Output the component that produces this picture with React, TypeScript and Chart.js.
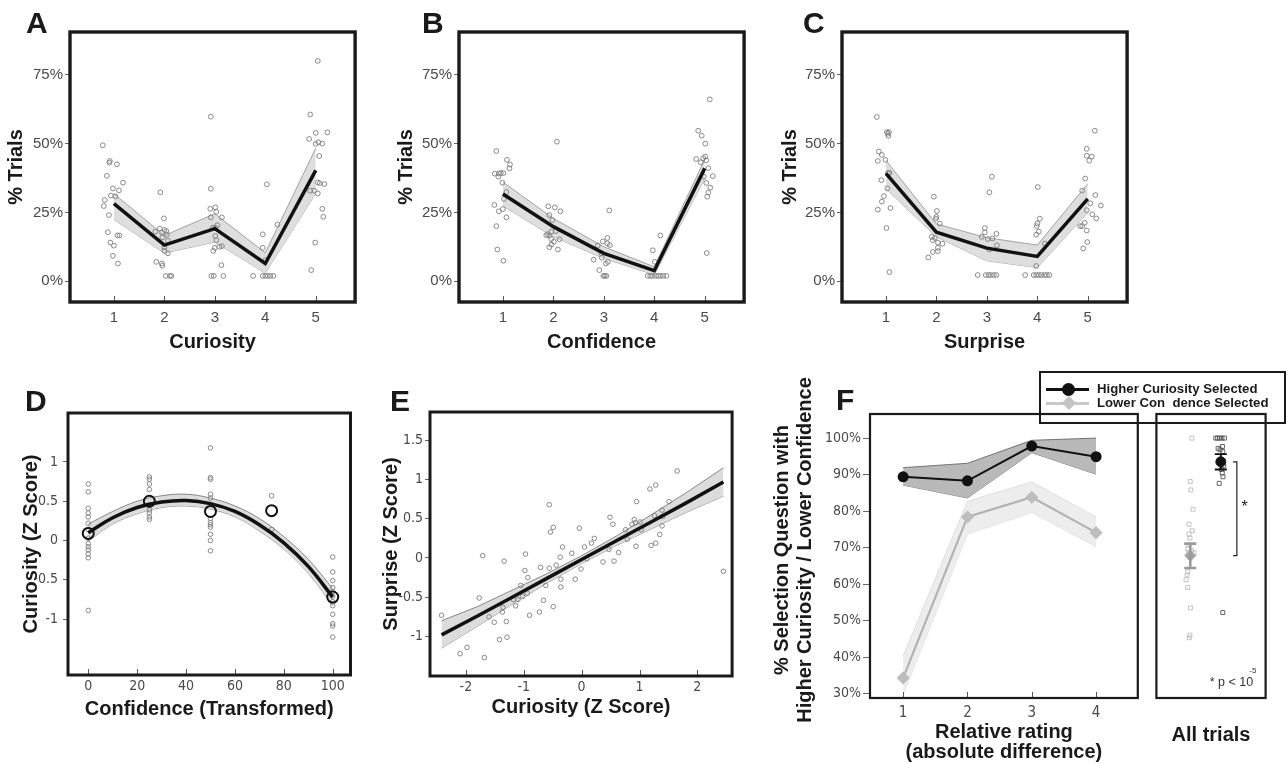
import React, { useEffect, useRef } from "react";
import { Chart, registerables } from "chart.js";

Chart.register(...registerables);

type Pt = [number, number];

// ---------------- Panels A–C : distribution of ratings ----------------
const ratingLevels = [1, 2, 3, 4, 5];
const pctTicks = [0, 25, 50, 75];

const curiosityMean = [28.2, 13.1, 19.1, 6.4, 40.3];
const curiosityLow = [22.4, 10.2, 14.2, 2.9, 31.9];
const curiosityHigh = [31.8, 16.6, 24.5, 10.3, 48.3];
const curiosityPoints: Pt[] = [
  [0.78, 49.4], [0.92, 43.7], [0.91, 43.1], [1.06, 42.5], [0.86, 38.3], [1.18, 35.8], [0.98, 33.7], [1.1, 33.0],
  [0.94, 31.1], [1.03, 30.8], [0.82, 29.5], [0.8, 27.3], [0.9, 24.0], [0.88, 17.8], [1.07, 16.6], [1.11, 16.6],
  [0.93, 14.0], [1.0, 12.9], [0.98, 9.2], [1.08, 6.4],
  [1.92, 32.3], [1.99, 22.8], [1.82, 18.0], [1.91, 19.1], [1.95, 17.7], [2.0, 18.6], [2.04, 18.2], [2.05, 16.9],
  [1.96, 15.9], [2.07, 14.7], [2.0, 12.3], [2.0, 11.0], [2.07, 10.1], [1.84, 7.0], [1.95, 6.4], [1.96, 5.6],
  [2.03, 1.9], [2.11, 1.9], [2.14, 1.9],
  [2.92, 59.8], [2.92, 33.6], [2.91, 26.3], [3.01, 26.8], [3.03, 25.2], [2.92, 23.2], [3.14, 23.2], [2.96, 19.4],
  [3.01, 19.4], [3.05, 20.3], [3.01, 16.4], [3.03, 14.9], [3.0, 12.1], [3.09, 12.5], [3.14, 12.7], [2.97, 11.0],
  [3.13, 5.8], [2.93, 1.9], [2.98, 1.9], [3.17, 1.9],
  [4.03, 35.2], [4.24, 20.6], [3.95, 17.0], [3.95, 12.1], [4.0, 7.6], [3.76, 1.9], [3.95, 1.9], [4.0, 1.9],
  [4.05, 1.9], [4.1, 1.9], [4.16, 1.9],
  [5.04, 80.1], [4.89, 60.6], [5.0, 53.9], [5.23, 54.1], [4.87, 51.7], [5.0, 49.9], [5.05, 50.5], [5.13, 50.0],
  [5.07, 45.5], [5.04, 35.9], [5.08, 35.6], [5.17, 35.3], [4.89, 32.9], [4.97, 32.9], [5.04, 31.9], [5.13, 26.3],
  [5.15, 23.4], [4.99, 14.0], [4.91, 4.0],
];

const confidenceMean = [31.7, 19.8, 10.1, 3.8, 41.0];
const confidenceLow = [27.4, 16.1, 8.3, 2.3, 37.4];
const confidenceHigh = [36.0, 22.8, 12.5, 5.2, 44.3];
const confidencePoints: Pt[] = [
  [0.87, 47.3], [1.08, 44.1], [1.14, 42.4], [1.13, 41.0], [0.84, 39.1], [0.92, 39.1], [0.91, 38.0], [0.96, 39.3],
  [1.01, 39.3], [0.99, 35.8], [1.07, 32.4], [1.02, 29.9], [0.83, 27.7], [1.0, 26.2], [0.92, 25.4], [1.07, 23.2],
  [0.87, 20.0], [0.89, 11.5], [1.01, 7.4],
  [2.07, 50.7], [1.9, 27.2], [2.03, 26.8], [2.14, 25.4], [1.92, 24.0], [1.98, 22.2], [1.96, 18.0], [2.05, 18.2],
  [1.86, 16.7], [1.92, 16.6], [1.96, 15.3], [2.12, 15.2], [2.01, 14.3], [1.96, 13.3], [1.92, 12.3], [2.09, 11.5],
  [1.89, 17.1],
  [3.11, 25.7], [2.88, 12.9], [2.98, 14.4], [3.07, 13.7], [3.07, 15.7], [3.12, 13.1], [2.95, 10.1], [2.96, 8.5],
  [2.8, 7.8], [3.04, 6.4], [3.08, 7.0], [2.91, 4.0], [2.99, 1.9], [3.02, 1.9], [3.05, 1.9],
  [4.12, 16.6], [3.97, 11.2], [4.01, 7.0], [3.87, 1.9], [3.92, 1.9], [3.97, 1.9], [4.03, 1.9], [4.08, 1.9],
  [4.13, 1.9], [4.18, 1.9], [4.24, 1.9],
  [5.1, 66.1], [4.87, 54.7], [4.94, 52.9], [5.01, 50.0], [4.83, 44.4], [4.92, 43.2], [4.97, 44.7], [5.01, 45.3],
  [5.03, 43.9], [5.07, 41.1], [4.98, 38.0], [5.16, 38.2], [5.03, 35.7], [5.11, 34.0], [5.07, 32.2], [5.05, 30.7],
  [5.04, 10.2],
];

const surpriseMean = [39.2, 17.8, 12.0, 9.0, 29.9];
const surpriseLow = [33.6, 16.1, 7.4, 4.9, 24.9];
const surpriseHigh = [43.9, 20.8, 15.8, 13.1, 35.4];
const surprisePoints: Pt[] = [
  [0.82, 59.7], [1.02, 54.2], [1.06, 54.2], [1.04, 53.6], [1.05, 52.8], [0.86, 47.1], [0.92, 45.9], [0.84, 43.7],
  [0.99, 44.1], [1.04, 39.4], [1.07, 39.3], [0.91, 36.7], [1.03, 33.7], [0.96, 30.9], [0.92, 28.9], [1.09, 26.6],
  [0.84, 26.0], [1.01, 19.3], [1.07, 3.3],
  [1.95, 30.7], [2.01, 25.5], [2.0, 23.4], [1.99, 22.7], [2.07, 20.9], [1.91, 16.1], [1.93, 14.9], [1.97, 15.7],
  [2.03, 14.0], [2.12, 13.6], [2.03, 12.1], [1.93, 10.6], [2.03, 10.9], [1.84, 8.6],
  [3.1, 38.0], [3.05, 32.3], [2.96, 19.3], [2.96, 17.7], [2.9, 16.1], [3.02, 15.3], [3.11, 15.5], [3.19, 17.2],
  [3.2, 13.0], [3.05, 11.5], [2.82, 2.2], [2.98, 2.2], [3.03, 2.2], [3.08, 2.2], [3.14, 2.2], [3.19, 2.2],
  [4.01, 34.2], [4.05, 22.7], [4.0, 21.0], [3.99, 20.0], [4.03, 18.0], [3.98, 16.9], [4.15, 13.6], [3.98, 5.5],
  [3.76, 2.2], [3.93, 2.2], [3.98, 2.2], [4.03, 2.2], [4.08, 2.2], [4.14, 2.2], [4.19, 2.2], [4.24, 2.2],
  [5.14, 54.7], [4.98, 48.1], [4.98, 45.6], [5.08, 45.3], [5.03, 43.8], [4.95, 37.3], [4.89, 32.9], [5.15, 31.3],
  [5.05, 28.3], [5.26, 27.5], [4.98, 25.8], [5.09, 24.3], [5.17, 22.8], [4.85, 20.0], [4.94, 21.2], [4.89, 20.0],
  [4.98, 18.4], [4.99, 14.2], [4.91, 11.9],
];

// ---------------- Panel D : curiosity vs transformed confidence ----------------
const confLevels = [0, 25, 50, 75, 100];
const confLevelMeans = [0.09, 0.5, 0.37, 0.38, -0.72];
const confTicks = [0, 20, 40, 60, 80, 100];
const zTicksD = [-1, -0.5, 0, 0.5, 1];
const curiosityByConf: Pt[] = [
  [0, 0.72], [0, 0.62], [0, 0.41], [0, 0.35], [0, 0.3], [0, 0.22], [0, 0.14], [0, 0.03], [0, -0.04], [0, -0.08],
  [0, -0.12], [0, -0.17], [0, -0.22], [0, -0.89],
  [25, 0.81], [25, 0.78], [25, 0.72], [25, 0.65], [25, 0.45], [25, 0.39], [25, 0.35], [25, 0.3], [25, 0.27],
  [50, 1.18], [50, 0.8], [50, 0.78], [50, 0.59], [50, 0.54], [50, 0.28], [50, 0.23], [50, 0.2], [50, 0.17],
  [50, 0.08], [50, 0.0], [50, -0.13],
  [75, 0.57], [75, 0.14],
  [100, -0.21], [100, -0.4], [100, -0.51], [100, -0.6], [100, -0.65], [100, -0.71], [100, -0.78], [100, -0.83],
  [100, -0.94], [100, -1.06], [100, -1.09], [100, -1.23],
];
const fitConfX = [0, 10, 20, 30, 40, 50, 60, 70, 80, 90, 100];
const fitConfY = [0.1, 0.29, 0.42, 0.49, 0.51, 0.47, 0.37, 0.2, -0.03, -0.33, -0.72];
const fitConfLow = [-0.01, 0.21, 0.34, 0.42, 0.44, 0.4, 0.3, 0.12, -0.11, -0.42, -0.83];
const fitConfHigh = [0.21, 0.37, 0.5, 0.57, 0.59, 0.54, 0.44, 0.28, 0.05, -0.24, -0.61];

// ---------------- Panel E : surprise vs curiosity ----------------
const zTicksEx = [-2, -1, 0, 1, 2];
const zTicksEy = [-1, -0.5, 0, 0.5, 1, 1.5];
const surpriseByCuriosity: Pt[] = [
  [-2.42, -0.73], [-2.1, -1.22], [-1.98, -1.14], [-1.77, -0.51], [-1.71, 0.03], [-1.68, -1.27], [-1.6, -0.75],
  [-1.51, -0.82], [-1.42, -1.04], [-1.37, -0.69], [-1.36, -0.63], [-1.34, -0.04], [-1.3, -0.81], [-1.29, -1.01],
  [-1.18, -0.53], [-1.14, -0.61], [-1.1, -0.53], [-1.05, -0.35], [-1.02, -0.49], [-0.98, -0.16], [-0.97, 0.05],
  [-0.94, -0.45], [-0.93, -0.25], [-0.9, -0.73], [-0.73, -0.69], [-0.71, -0.12], [-0.66, -0.54], [-0.62, -0.35],
  [-0.56, -0.13], [-0.56, 0.68], [-0.54, 0.33], [-0.49, 0.39], [-0.49, -0.62], [-0.44, -0.09], [-0.37, 0.01],
  [-0.36, -0.27], [-0.36, -0.37], [-0.33, 0.14], [-0.17, 0.06], [-0.11, -0.27], [-0.04, 0.38], [-0.01, -0.14],
  [0.05, 0.14], [0.09, -0.01], [0.17, 0.19], [0.22, 0.25], [0.37, -0.05], [0.47, 0.11], [0.49, 0.52], [0.54, 0.43],
  [0.56, -0.04], [0.64, 0.07], [0.76, 0.36], [0.79, 0.24], [0.87, 0.43], [0.91, 0.49], [0.93, 0.45], [0.94, 0.15],
  [0.95, 0.72], [1.01, 0.46], [1.03, 0.36], [1.18, 0.88], [1.2, 0.16], [1.26, 0.54], [1.28, 0.93], [1.28, 0.19],
  [1.35, 0.3], [1.39, 0.41], [1.39, 0.61], [1.4, 0.53], [1.51, 0.72], [1.65, 1.11], [2.45, -0.17],
];
const fitCurX = [-2.42, -1.8, -1.2, -0.6, 0, 0.6, 1.2, 1.8, 2.45];
const fitCurY = [-0.98, -0.74, -0.5, -0.26, -0.02, 0.22, 0.46, 0.7, 0.97];
const fitCurLow = [-1.15, -0.87, -0.59, -0.32, -0.07, 0.16, 0.37, 0.58, 0.79];
const fitCurHigh = [-0.8, -0.62, -0.41, -0.2, 0.03, 0.28, 0.55, 0.83, 1.15];

// ---------------- Panel F : selection by relative rating ----------------
const relRating = [1, 2, 3, 4];
const pctTicksF = [30, 40, 50, 60, 70, 80, 90, 100];
const higherCurMean = [89.4, 88.3, 97.8, 94.9];
const higherCurLow = [87.1, 83.6, 96.0, 90.1];
const higherCurHigh = [91.9, 93.1, 99.4, 100.0];
const lowerConfMean = [34.3, 78.4, 83.8, 74.1];
const lowerConfLow = [29.7, 73.7, 79.6, 70.2];
const lowerConfHigh = [40.3, 82.7, 88.0, 78.4];
const fYTitle = ["% Selection Question with", "Higher Curiosity / Lower Confidence"];

// All trials (per subject), x = jittered group position
const allGroupX = [0.31, 0.59]; // lower confidence, higher curiosity
const allMean = [67.8, 93.5];
const allErrLow = [64.4, 91.4];
const allErrHigh = [71.1, 95.6];
const allLowerConf: Pt[] = [
  [0.325, 100], [0.31, 88.1], [0.315, 85.8], [0.335, 80.5], [0.298, 76.4], [0.328, 74.6], [0.298, 73.7],
  [0.307, 72.6], [0.298, 70.7], [0.287, 69.7], [0.322, 69.2], [0.345, 68.6], [0.295, 68.5], [0.315, 67.5],
  [0.287, 63.4], [0.281, 62.5], [0.272, 61.2], [0.287, 59.1], [0.312, 53.5], [0.307, 46.0], [0.301, 45.3],
];
const allHigherCur: Pt[] = [
  [0.544, 100], [0.561, 100], [0.579, 100], [0.6, 100], [0.623, 100], [0.605, 97.7], [0.565, 97.2], [0.583, 96.8],
  [0.608, 96.3], [0.575, 93.5], [0.617, 92.4], [0.595, 91.4], [0.603, 90.5], [0.61, 89.4], [0.575, 87.6],
  [0.608, 52.2],
];

// ---------------- helpers ----------------
const FONT = "'Liberation Sans', Arial, Helvetica, sans-serif";
const NARROW = "'Liberation Sans Narrow', 'DejaVu Sans Condensed', 'Liberation Sans', Arial, sans-serif";
const INK = "#1a1a1a";
const TICK = "#4a4a4a";

const xy = (xs: number[], ys: number[]) => xs.map((x, i) => ({ x, y: ys[i] }));
const pts = (p: Pt[]) => p.map(([x, y]) => ({ x, y }));

const framePlugin = {
  id: "frame",
  afterDraw(chart: any, _a: any, opts: any) {
    const { ctx, chartArea: a } = chart;
    ctx.save();
    if (opts.inwardTicks) {
      const sx = chart.scales.x;
      ctx.strokeStyle = "#555";
      ctx.lineWidth = 1;
      for (const t of sx.ticks) {
        const px = Math.round(sx.getPixelForValue(t.value)) + 0.5;
        ctx.beginPath();
        ctx.moveTo(px, a.bottom);
        ctx.lineTo(px, a.bottom - opts.inwardTicks);
        ctx.stroke();
      }
    }
    ctx.strokeStyle = INK;
    ctx.lineWidth = opts.width ?? 3;
    ctx.strokeRect(a.left, a.top, a.right - a.left, a.bottom - a.top);
    ctx.restore();
  },
};

// two-line rotated y title for panel F (wider than the plot, so drawn without width limit)
const fTitlePlugin = {
  id: "fTitle",
  afterDraw(chart: any) {
    const { ctx, chartArea: a } = chart;
    const cy = (a.top + a.bottom) / 2 - 6;
    ctx.save();
    ctx.fillStyle = INK;
    ctx.font = `bold 20px ${FONT}`;
    ctx.textAlign = "center";
    ctx.textBaseline = "middle";
    fYTitle.forEach((line, i) => {
      ctx.save();
      ctx.translate(a.left - 88 + i * 23.5, cy);
      ctx.rotate(-Math.PI / 2);
      ctx.fillText(line, 0, 0);
      ctx.restore();
    });
    ctx.restore();
  },
};

function axisX(o: any) {
  return {
    type: "linear",
    position: "bottom",
    min: o.min,
    max: o.max,
    afterBuildTicks: (s: any) => {
      if (o.ticks) s.ticks = o.ticks.map((v: number) => ({ value: v }));
    },
    afterFit: (s: any) => {
      s.height = o.height;
    },
    grid: { display: false, drawTicks: false },
    border: { display: false },
    ticks: {
      display: o.showTicks !== false,
      padding: o.tickPad ?? 6,
      color: TICK,
      autoSkip: false,
      maxRotation: 0,
      font: { family: o.tickFont ?? FONT, size: o.tickSize ?? 14 },
      callback: (v: any) => (o.fmt ? o.fmt(v) : String(v)),
    },
    title: {
      display: true,
      text: o.title,
      color: INK,
      padding: 0,
      font: { family: FONT, size: 20, weight: "bold", lineHeight: o.titleLH ?? 1.2 },
    },
  };
}

function axisY(o: any) {
  if (o.hidden) return { type: "linear", display: false, min: o.min, max: o.max };
  return {
    type: "linear",
    position: "left",
    min: o.min,
    max: o.max,
    afterBuildTicks: (s: any) => {
      s.ticks = o.ticks.map((v: number) => ({ value: v }));
    },
    afterFit: (s: any) => {
      s.width = o.width;
    },
    grid: { display: true, drawOnChartArea: false, drawTicks: true, tickLength: o.tickLen ?? 5, color: "#666", lineWidth: 1 },
    border: { display: false },
    ticks: {
      padding: o.tickPad ?? 2,
      color: TICK,
      autoSkip: false,
      font: { family: o.tickFont ?? FONT, size: o.tickSize ?? 14 },
      callback: (v: any) => (o.fmt ? o.fmt(v) : String(v)),
    },
    title: {
      display: o.title !== undefined,
      text: o.title ?? "",
      color: INK,
      padding: 0,
      font: { family: FONT, size: 20, weight: "bold", lineHeight: 1.2 },
    },
  };
}

const lineDs = (data: any[], color: string, width: number, extra: any = {}) => ({
  type: "line",
  data,
  borderColor: color,
  borderWidth: width,
  pointRadius: 0,
  fill: false,
  tension: 0,
  ...extra,
});
const dotDs = (data: any[], color: string, r = 2.3, style = "circle", extra: any = {}) => ({
  type: "scatter",
  data,
  pointStyle: style,
  pointRadius: r,
  pointBorderColor: color,
  pointBackgroundColor: "rgba(0,0,0,0)",
  pointBorderWidth: 0.9,
  showLine: false,
  ...extra,
});

function baseConfig(datasets: any[], scales: any, padding: any, frame: any, extra: any[] = []) {
  return {
    type: "scatter",
    data: { datasets },
    options: {
      responsive: false,
      animation: false,
      events: [],
      layout: { padding },
      plugins: { legend: { display: false }, tooltip: { enabled: false }, frame },
      scales,
    },
    plugins: [framePlugin, ...extra],
  };
}

function topPanel(points: Pt[], mean: number[], low: number[], high: number[], title: string, yWidth: number) {
  return baseConfig(
    [
      lineDs(xy(ratingLevels, mean), "#111", 3.5),
      dotDs(pts(points), "#7d7d7d", 2.4),
      lineDs(xy(ratingLevels, high), "#8f8f8f", 0.8, { fill: "+1", backgroundColor: "#dedede" }),
      lineDs(xy(ratingLevels, low), "#8f8f8f", 0.8),
    ],
    {
      x: axisX({ min: 0.13, max: 5.78, ticks: ratingLevels, title, tickSize: 15, tickPad: 7, height: 52 }),
      y: axisY({ min: -7.6, max: 90.6, ticks: pctTicks, fmt: (v: number) => `${v}%`, title: "% Trials", tickSize: 15, width: yWidth }),
    },
    { left: 0, top: 32, right: 4, bottom: 0 },
    { width: 3.4, inwardTicks: 6 }
  );
}

const allTrialsPlugin = {
  id: "allTrials",
  afterDatasetsDraw(chart: any) {
    const { ctx } = chart;
    const sx = chart.scales.x;
    const sy = chart.scales.y;
    ctx.save();
    allGroupX.forEach((gx, i) => {
      const px = sx.getPixelForValue(gx);
      const t = sy.getPixelForValue(allErrHigh[i]);
      const b = sy.getPixelForValue(allErrLow[i]);
      ctx.strokeStyle = i === 0 ? "#9b9b9b" : "#111";
      ctx.lineWidth = i === 0 ? 2.6 : 1.8;
      ctx.beginPath();
      ctx.moveTo(px, t);
      ctx.lineTo(px, b);
      ctx.moveTo(px - 6, t);
      ctx.lineTo(px + 6, t);
      ctx.moveTo(px - 6, b);
      ctx.lineTo(px + 6, b);
      ctx.stroke();
    });
    // significance bracket between the two group means
    const bx = sx.getPixelForValue(0.737);
    const bx0 = sx.getPixelForValue(0.702);
    const y1 = sy.getPixelForValue(allMean[1]);
    const y0 = sy.getPixelForValue(allMean[0]);
    ctx.strokeStyle = "#222";
    ctx.lineWidth = 1.2;
    ctx.beginPath();
    ctx.moveTo(bx0, y1);
    ctx.lineTo(bx, y1);
    ctx.lineTo(bx, y0);
    ctx.lineTo(bx0, y0);
    ctx.stroke();
    ctx.fillStyle = "#222";
    ctx.font = `16px ${FONT}`;
    ctx.textAlign = "center";
    ctx.textBaseline = "middle";
    ctx.fillText("*", sx.getPixelForValue(0.807), sy.getPixelForValue(80.9));
    ctx.fillStyle = "#333";
    ctx.font = `12.5px ${FONT}`;
    ctx.textAlign = "right";
    ctx.textBaseline = "alphabetic";
    ctx.fillText("* p < 10", sx.getPixelForValue(0.886), sy.getPixelForValue(32.1));
    ctx.font = `8px ${FONT}`;
    ctx.textAlign = "left";
    ctx.fillText("-5", sx.getPixelForValue(0.85), sy.getPixelForValue(35.7));
    ctx.restore();
  },
};

type Box = { left: number; top: number; width: number; height: number };

const panels: { id: string; box: Box; make: () => any }[] = [
  {
    id: "A",
    box: { left: 4, top: 0, width: 356, height: 354 },
    make: () => topPanel(curiosityPoints, curiosityMean, curiosityLow, curiosityHigh, "Curiosity", 66),
  },
  {
    id: "B",
    box: { left: 394, top: 0, width: 355, height: 354 },
    make: () => topPanel(confidencePoints, confidenceMean, confidenceLow, confidenceHigh, "Confidence", 65),
  },
  {
    id: "C",
    box: { left: 778, top: 0, width: 354, height: 354 },
    make: () => topPanel(surprisePoints, surpriseMean, surpriseLow, surpriseHigh, "Surprise", 64),
  },
  {
    id: "D",
    box: { left: 19, top: 395, width: 339, height: 326 },
    make: () =>
      baseConfig(
        [
          dotDs(xy(confLevels, confLevelMeans), "#111", 5.5, "circle", { pointBorderWidth: 2 }),
          lineDs(xy(fitConfX, fitConfY), "#111", 3.5, { tension: 0.4 }),
          dotDs(pts(curiosityByConf), "#7d7d7d", 2.3),
          lineDs(xy(fitConfX, fitConfHigh), "#6f6f6f", 0.8, { tension: 0.4, fill: "+1", backgroundColor: "#dcdcdc" }),
          lineDs(xy(fitConfX, fitConfLow), "#6f6f6f", 0.8, { tension: 0.4 }),
        ],
        {
          x: axisX({ min: -8.28, max: 107.27, ticks: confTicks, title: "Confidence (Transformed)", tickPad: 3, height: 46, tickFont: NARROW }),
          y: axisY({ min: -1.713, max: 1.624, ticks: zTicksD, title: "Curiosity (Z Score)", width: 49, tickFont: NARROW, tickPad: 5 }),
        },
        { left: 0, top: 18, right: 4, bottom: 0 },
        { width: 3, inwardTicks: 6 }
      ),
  },
  {
    id: "E",
    box: { left: 379, top: 395, width: 358, height: 324 },
    make: () =>
      baseConfig(
        [
          lineDs(xy(fitCurX, fitCurY), "#111", 3.5),
          dotDs(pts(surpriseByCuriosity), "#7d7d7d", 2.3),
          lineDs(xy(fitCurX, fitCurHigh), "#6f6f6f", 0.8, { fill: "+1", backgroundColor: "#dcdcdc" }),
          lineDs(xy(fitCurX, fitCurLow), "#6f6f6f", 0.8),
        ],
        {
          x: axisX({ min: -2.62, max: 2.6, ticks: zTicksEx, title: "Curiosity (Z Score)", tickPad: 3, height: 43, tickFont: NARROW }),
          y: axisY({ min: -1.505, max: 1.862, ticks: zTicksEy, title: "Surprise (Z Score)", width: 51, tickFont: NARROW }),
        },
        { left: 0, top: 17, right: 4, bottom: 0 },
        { width: 3, inwardTicks: 6 }
      ),
  },
  {
    id: "F1",
    box: { left: 770, top: 360, width: 375, height: 402 },
    make: () =>
      baseConfig(
        [
          lineDs(xy(relRating, higherCurMean), "#111", 2, {
            pointRadius: 4.5,
            pointBackgroundColor: "#111",
            pointBorderColor: "#111",
          }),
          lineDs(xy(relRating, lowerConfMean), "#b3b3b3", 2.2, {
            pointStyle: "rectRot",
            pointRadius: 5,
            pointBackgroundColor: "#bdbdbd",
            pointBorderColor: "#bdbdbd",
          }),
          lineDs(xy(relRating, higherCurHigh), "#5a5a5a", 0.8, { fill: "+1", backgroundColor: "#b9b9b9" }),
          lineDs(xy(relRating, higherCurLow), "#5a5a5a", 0.8),
          lineDs(xy(relRating, lowerConfHigh), "#d8d8d8", 0.8, { fill: "+1", backgroundColor: "#ededed" }),
          lineDs(xy(relRating, lowerConfLow), "#d8d8d8", 0.8),
        ],
        {
          x: axisX({
            min: 0.485,
            max: 4.648,
            ticks: relRating,
            title: ["Relative rating", "(absolute difference)"],
            titleLH: 1.0,
            tickPad: 6,
            height: 64,
            tickFont: NARROW,
            tickSize: 15,
          }),
          y: axisY({
            min: 28.8,
            max: 106.6,
            ticks: pctTicksF,
            fmt: (v: number) => `${v}%`,
            width: 100,
            tickLen: 7,
            tickFont: NARROW,
          }),
        },
        { left: 0, top: 54, right: 4, bottom: 0 },
        { width: 2.2, inwardTicks: 6 },
        [fTitlePlugin]
      ),
  },
  {
    id: "F2",
    box: { left: 1150, top: 395, width: 122, height: 352 },
    make: () =>
      baseConfig(
        [
          dotDs([{ x: allGroupX[1], y: allMean[1] }], "#111", 5, "circle", { pointBackgroundColor: "#111" }),
          dotDs([{ x: allGroupX[0], y: allMean[0] }], "#a5a5a5", 5.5, "rectRot", { pointBackgroundColor: "#a5a5a5" }),
          dotDs(pts(allHigherCur), "#555", 2.8, "rect"),
          dotDs(pts(allLowerConf), "#bcbcbc", 2.8, "rect"),
        ],
        {
          x: axisX({ min: 0, max: 1, title: "All trials", showTicks: false, height: 49 }),
          y: axisY({ hidden: true, min: 28.8, max: 106.6 }),
        },
        { left: 4, top: 19, right: 4, bottom: 0 },
        { width: 2.2 },
        [allTrialsPlugin]
      ),
  },
];

function ChartCanvas({ box, make }: { box: Box; make: () => any }) {
  const ref = useRef<HTMLCanvasElement>(null);
  useEffect(() => {
    const chart = new Chart(ref.current as HTMLCanvasElement, make());
    return () => chart.destroy();
  }, []);
  return (
    <canvas
      ref={ref}
      width={box.width}
      height={box.height}
      style={{ position: "absolute", left: box.left, top: box.top, width: box.width, height: box.height }}
    />
  );
}

const letters = [
  { t: "A", left: 26, top: 8 },
  { t: "B", left: 422, top: 8 },
  { t: "C", left: 803, top: 8 },
  { t: "D", left: 25, top: 386 },
  { t: "E", left: 390, top: 386 },
  { t: "F", left: 836, top: 385 },
];

const abs = (s: any) => ({ position: "absolute" as const, ...s });
const legendText = { fontSize: 13.2, lineHeight: "18px", fontWeight: "bold", color: INK, whiteSpace: "pre" };

export default function App() {
  return (
    <div
      style={{
        position: "absolute",
        left: 0,
        top: 0,
        width: 1287,
        height: 763,
        background: "#fff",
        overflow: "hidden",
        fontFamily: FONT,
      }}
    >
      {panels.map((p) => (
        <ChartCanvas key={p.id} box={p.box} make={p.make} />
      ))}
      {letters.map((l) => (
        <div key={l.t} style={abs({ left: l.left, top: l.top, fontSize: 30, lineHeight: "30px", fontWeight: "bold", color: INK })}>
          {l.t}
        </div>
      ))}
      {/* legend for panel F */}
      <div style={abs({ left: 1039, top: 371, width: 247, height: 53, border: `2px solid ${INK}`, boxSizing: "border-box" })} />
      <div style={abs({ left: 1046, top: 387.5, width: 43, height: 3, background: "#111" })} />
      <div style={abs({ left: 1062, top: 382.5, width: 13, height: 13, borderRadius: "50%", background: "#111" })} />
      <div style={abs({ left: 1097, top: 380, ...legendText })}>Higher Curiosity Selected</div>
      <div style={abs({ left: 1046, top: 401.5, width: 43, height: 3, background: "#c8c8c8" })} />
      <div style={abs({ left: 1063.5, top: 398, width: 10, height: 10, background: "#c4c4c4", transform: "rotate(45deg)" })} />
      <div style={abs({ left: 1097, top: 394, ...legendText })}>{"Lower Con  dence Selected"}</div>
    </div>
  );
}
